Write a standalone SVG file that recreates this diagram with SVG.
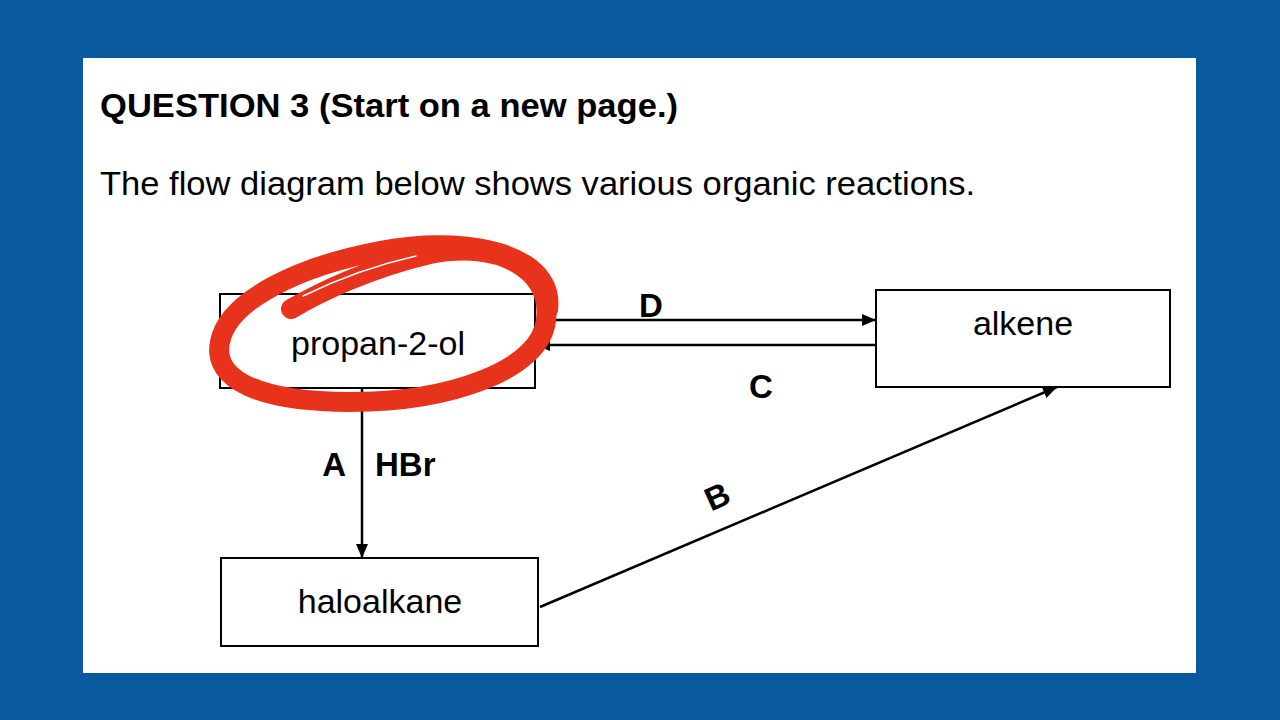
<svg xmlns="http://www.w3.org/2000/svg" width="1280" height="720" viewBox="0 0 1280 720">
<style>
.box{fill:#fff;stroke:#000;stroke-width:2}
.lbl{font-family:"Liberation Sans",Arial,sans-serif;font-size:34px;fill:#000}
.bold{font-family:"Liberation Sans",Arial,sans-serif;font-size:33px;font-weight:bold;fill:#000}
.conn{stroke:#000;stroke-width:2.5;fill:none}
</style>
<defs>
<marker id="arr" markerWidth="14" markerHeight="12" refX="14" refY="6" orient="auto" markerUnits="userSpaceOnUse">
<path d="M0,0 L14,6 L0,12 Z" fill="#000"/>
</marker>
</defs>
<rect x="0" y="0" width="1280" height="720" fill="#08599e"/>
<rect x="83" y="58" width="1113" height="615" fill="#fff"/>
<text x="100" y="117" class="bold" textLength="578" lengthAdjust="spacingAndGlyphs">QUESTION 3 (Start on a new page.)</text>
<text x="100" y="195" class="lbl" textLength="875" lengthAdjust="spacingAndGlyphs">The flow diagram below shows various organic reactions.</text>
<g id="connectors">
<line class="conn" x1="535" y1="320" x2="876" y2="320" marker-end="url(#arr)"/>
<line class="conn" x1="876" y1="345" x2="536" y2="345" marker-end="url(#arr)"/>
<line class="conn" x1="362" y1="388" x2="362" y2="558" marker-end="url(#arr)"/>
<line class="conn" x1="540" y1="607" x2="1057" y2="387" marker-end="url(#arr)"/>
<text x="651" y="317" class="bold" text-anchor="middle">D</text>
<text x="761" y="398" class="bold" text-anchor="middle">C</text>
<text x="346" y="476" class="bold" text-anchor="end">A</text>
<text x="375" y="476" class="bold">HBr</text>
<text x="0" y="0" class="bold" text-anchor="middle" transform="translate(722,507) rotate(-24)">B</text>
</g>
<g id="propan-2-ol">
<rect class="box" x="220" y="294" width="315" height="94"/>
<text x="378" y="355" class="lbl" text-anchor="middle">propan-2-ol</text>
</g>
<g id="alkene">
<rect class="box" x="876" y="290" width="294" height="97"/>
<text x="1023" y="335" class="lbl" text-anchor="middle">alkene</text>
</g>
<g id="haloalkane">
<rect class="box" x="221" y="558" width="317" height="88"/>
<text x="380" y="613" class="lbl" text-anchor="middle">haloalkane</text>
</g>
<g id="highlight">
<path d="M291 309 C320 292 370 268 430 254 C500 240 552 270 546 320 C541 370 450 402 350 402 C260 402 212 380 220 342 C228 300 300 266 380 251 C440 240 500 245 530 268 C545 280 550 295 548 310" fill="none" stroke="#e8331c" stroke-width="20" stroke-linecap="round" stroke-linejoin="round"/>
<path d="M303 296 C340 278 380 264 416 256" fill="none" stroke="#fff" stroke-width="1.5" stroke-linecap="round"/>
</g>
</svg>
